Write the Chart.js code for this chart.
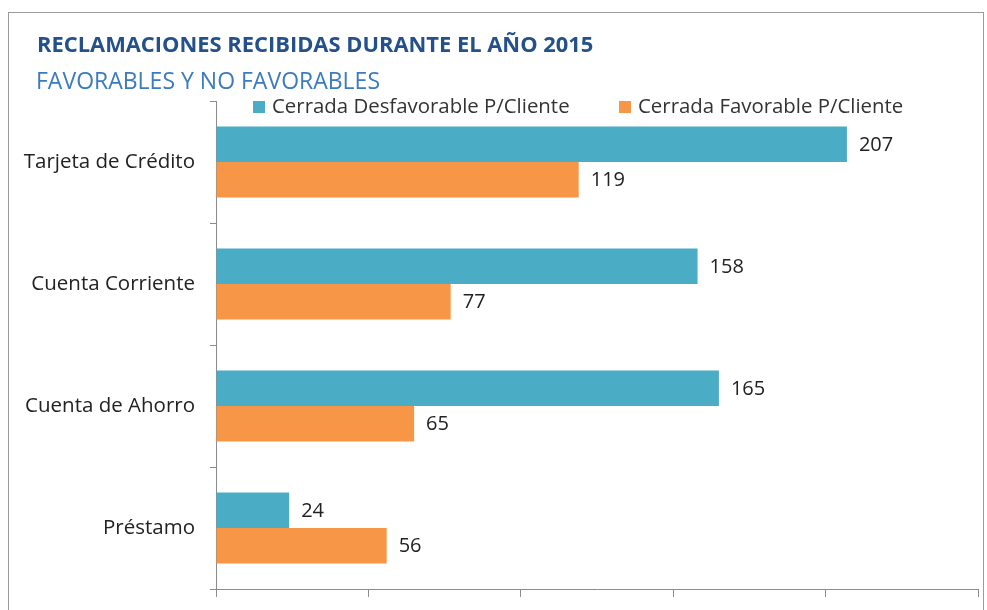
<!DOCTYPE html>
<html>
<head>
<meta charset="utf-8">
<script src="https://cdn.jsdelivr.net/npm/chart.js@4"></script>
<style>
  html, body { margin: 0; padding: 0; background: #fff; overflow: hidden; }
  canvas { display: block; }
</style>
</head>
<body>
<canvas id="graph" width="987" height="610"></canvas>
<script>
// data
const categories = ['Tarjeta de Crédito', 'Cuenta Corriente', 'Cuenta de Ahorro', 'Préstamo'];
const seriesNames = ['Cerrada Desfavorable P/Cliente', 'Cerrada Favorable P/Cliente'];
const desfavorable = [207, 158, 165, 24];
const favorable = [119, 77, 65, 56];
const xTicks = [0, 50, 100, 150, 200, 250];

const titleText = 'RECLAMACIONES RECIBIDAS DURANTE EL AÑO 2015';
const subtitleText = 'FAVORABLES Y NO FAVORABLES';

const teal = '#4BACC6';
const orange = '#F79646';
const fontFam = '"Open Sans", "Noto Sans", sans-serif';

// border, titles, legend and value labels
const decor = {
    id: 'decor',
    beforeDraw(chart) {
        const c = chart.ctx;
        c.save();
        c.fillStyle = '#fff';
        c.fillRect(0, 0, chart.width, chart.height);
        c.strokeStyle = '#9a9a9a';
        c.lineWidth = 1;
        c.strokeRect(8.5, 12.5, 975, 640);
        c.restore();
    },
    afterDraw(chart) {
        const c = chart.ctx;
        const area = chart.chartArea;
        c.save();
        c.textBaseline = 'middle';
        c.textAlign = 'left';
        c.fillStyle = '#24518A';
        c.font = 'bold 21.9px ' + fontFam;
        c.fillText(titleText, 37, 46);
        c.fillStyle = '#3B7BBF';
        c.font = '23px ' + fontFam;
        c.fillText(subtitleText, 36, 82);

        // legend
        c.font = '20.4px ' + fontFam;
        const legendX = [area.left + 37, area.left + 403];
        chart.data.datasets.forEach((ds, i) => {
            c.fillStyle = ds.backgroundColor;
            c.fillRect(legendX[i], 101, 12, 12);
            c.fillStyle = '#333';
            c.fillText(ds.label, legendX[i] + 19, 107);
        });

        // value labels
        c.fillStyle = '#222';
        c.font = '20px ' + fontFam;
        chart.data.datasets.forEach((ds, i) => {
            chart.getDatasetMeta(i).data.forEach((bar, j) => {
                c.fillText(String(ds.data[j]), bar.x + 12, bar.y + 1);
            });
        });
        c.restore();
    }
};

const ctx = document.getElementById('graph').getContext('2d');
const chart = new Chart(ctx, {
    type: 'bar',
    data: {
        labels: categories,
        datasets: [{
            label: seriesNames[0],
            data: desfavorable,
            backgroundColor: teal,
            barPercentage: 1,
            categoryPercentage: 0.58
        }, {
            label: seriesNames[1],
            data: favorable,
            backgroundColor: orange,
            barPercentage: 1,
            categoryPercentage: 0.58
        }]
    },
    options: {
        indexAxis: 'y',
        responsive: false,
        devicePixelRatio: 1,
        animation: false,
        layout: { padding: { top: 101, right: 9, left: 0, bottom: 0 } },
        plugins: {
            legend: { display: false },
            title: { display: false },
            tooltip: { enabled: false }
        },
        scales: {
            x: {
                min: xTicks[0],
                max: xTicks[xTicks.length - 1],
                afterBuildTicks(scale) {
                    scale.ticks = xTicks.map(v => ({ value: v }));
                },
                ticks: { display: false },
                grid: { drawOnChartArea: false, drawTicks: true, tickLength: 8, color: '#8c8c8c' },
                border: { color: '#8c8c8c' },
                afterFit(scale) { scale.height = 21; }
            },
            y: {
                ticks: {
                    color: '#222',
                    padding: 15,
                    font: { family: fontFam, size: 20.5 }
                },
                grid: { drawOnChartArea: false, tickLength: 6, color: '#8c8c8c', offset: true },
                border: { color: '#8c8c8c' },
                afterFit(scale) {
                    scale.width = 216;
                    scale.paddingTop = 0;
                    scale.paddingBottom = 0;
                }
            }
        }
    },
    plugins: [decor]
});
</script>
</body>
</html>
